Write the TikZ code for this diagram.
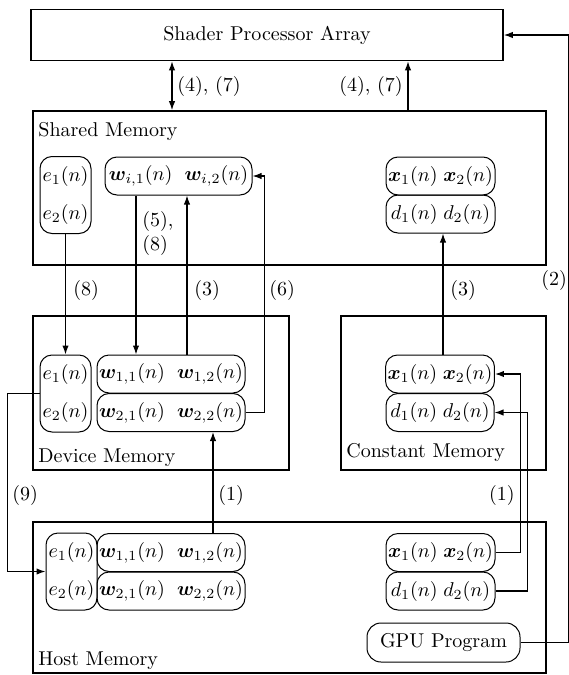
\documentclass[tikz,border=0pt]{standalone}
\usepackage{amsmath,amssymb}
\usepackage{bm}
\usepackage{tikz}
\usetikzlibrary{arrows.meta,calc,positioning}
\tikzset{
  membox/.style ={draw, line width=0.8pt, inner sep=0pt},
  cellbox/.style={draw, line width=0.5pt, rounded corners=6pt, inner sep=1pt,
                  minimum width=54.5pt, minimum height=19pt},
  wcell/.style  ={cellbox, minimum width=74pt},
  ecell/.style  ={cellbox, minimum width=25.5pt, minimum height=38.5pt, align=center},
  link/.style   ={line width=0.6pt},
  memlabel/.style={anchor=west, inner sep=0pt},
  steplabel/.style={inner sep=0pt},
}

\begin{document}
\begin{tikzpicture}[
  x=0.5pt,y=-0.5pt,
  >={Latex[length=4.5pt,width=3.2pt]},
  line cap=butt,
  line join=miter
]
\useasboundingbox (0,0) rectangle (568,675);

% --- Memory blocks -------------------------------------------------------
\node[membox, minimum width=236pt,   minimum height=25.5pt] (spa)  at (267,35)    {Shader Processor Array};
\node[membox, minimum width=256.5pt, minimum height=77pt]   (shm)  at (289.5,188) {};
\node[membox, minimum width=128pt,   minimum height=77pt]   (dev)  at (161,393)   {};
\node[membox, minimum width=102.5pt, minimum height=77pt]   (con)  at (443.5,393) {};
\node[membox, minimum width=256.5pt, minimum height=75.5pt] (host) at (289.5,597.5) {};

\node[memlabel] at (38,131) {Shared Memory};
\node[memlabel] at (38,458) {Device Memory};
\node[memlabel] at (346,452) {Constant Memory};
\node[memlabel] at (38,661) {Host Memory};

% --- Shared memory contents ----------------------------------------------
\node[ecell] (she) at (65.5,195) {$e_1(n)$\\[7pt]$e_2(n)$};
\node[wcell, minimum width=73.5pt] (shw) at (178.5,176)
  {$\bm{w}_{i,1}(n)\hspace{0.6em}\bm{w}_{i,2}(n)$};
\node[cellbox] (shx) at (440.5,176) {$\bm{x}_1(n)\;\bm{x}_2(n)$};
\node[cellbox] (shd) at (440.5,214) {$d_1(n)\;d_2(n)$};

% --- Device memory contents ----------------------------------------------
\node[ecell] (deve) at (65.5,393.5) {$e_1(n)$\\[7pt]$e_2(n)$};
\node[wcell] (devw1) at (171,374)   {$\bm{w}_{1,1}(n)\hspace{0.6em}\bm{w}_{1,2}(n)$};
\node[wcell] (devw2) at (171,412.5) {$\bm{w}_{2,1}(n)\hspace{0.6em}\bm{w}_{2,2}(n)$};

% --- Constant memory contents --------------------------------------------
\node[cellbox, minimum width=54pt] (conx) at (440,374)   {$\bm{x}_1(n)\;\bm{x}_2(n)$};
\node[cellbox, minimum width=54pt] (cond) at (440,412.5) {$d_1(n)\;d_2(n)$};

% --- Host memory contents ------------------------------------------------
\node[ecell] (hoste) at (71.5,571.5) {$e_1(n)$\\[7pt]$e_2(n)$};
\node[wcell] (hostw1) at (171,552.5) {$\bm{w}_{1,1}(n)\hspace{0.6em}\bm{w}_{1,2}(n)$};
\node[wcell] (hostw2) at (171,591)   {$\bm{w}_{2,1}(n)\hspace{0.6em}\bm{w}_{2,2}(n)$};
\node[cellbox] (hostx) at (440.5,552.5) {$\bm{x}_1(n)\;\bm{x}_2(n)$};
\node[cellbox] (hostd) at (440.5,591)   {$d_1(n)\;d_2(n)$};
\node[cellbox, minimum width=76.5pt, minimum height=19.5pt, rounded corners=7pt]
  (gpu) at (443.5,642.5) {GPU Program};

% --- Transfers -----------------------------------------------------------
\draw[link,<->] (spa.south -| 172,0) -- (shm.north -| 172,0);
\draw[link,->]  (shm.north -| 408,0) -- (spa.south -| 408,0);
\node[steplabel, anchor=west] at (177,86) {(4), (7)};
\node[steplabel, anchor=east] at (403,86) {(4), (7)};

\draw[link,->] (she.south) -- (deve.north);
\draw[link,->] (shw.south -| 136,0) -- (devw1.north -| 136,0);
\draw[link,->] (devw1.north -| 187,0) -- (shw.south -| 187,0);
\draw[link,->] (devw2.east) -- ++(19,0) |- (shw.east);
\draw[link,->] (conx.north -| 443,0) -- (shd.south -| 443,0);

\node[steplabel, anchor=north west, align=left] at (142,211) {(5),\\(8)};
\node[steplabel, anchor=west] at (73,290)  {(8)};
\node[steplabel, anchor=west] at (194,290) {(3)};
\node[steplabel, anchor=west] at (269,290) {(6)};
\node[steplabel, anchor=west] at (450,290) {(3)};
\node[steplabel, anchor=west] at (541,280) {(2)};

\draw[link,->] (deve.west) -- ++(-32,0) |- (hoste.west);
\draw[link,->] (hostw1.north -| 213,0) -- (devw2.south -| 213,0);
\draw[link,->] (hostx.east) -- ++(25,0) |- (conx.east);
\draw[link,->] (hostd.east) -- ++(32,0) |- (cond.east);
\draw[link,->] (gpu.east) -- ++(48.5,0) |- (spa.east);

\node[steplabel, anchor=west] at (12,495)  {(9)};
\node[steplabel, anchor=west] at (218,495) {(1)};
\node[steplabel, anchor=east] at (515,495) {(1)};

\end{tikzpicture}
\end{document}
